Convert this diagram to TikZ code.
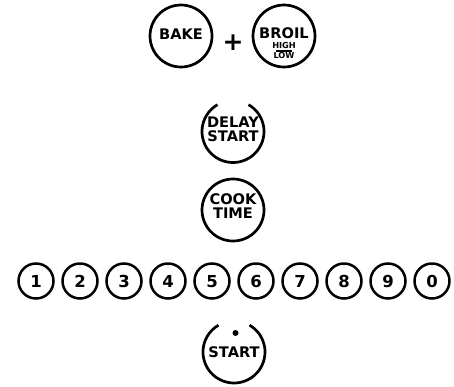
\documentclass[tikz,border=0pt]{standalone}
\usepackage{fontspec}
\setmainfont{DejaVu Sans}
\begin{document}
\begin{tikzpicture}[x=1pt,y=-1pt,
  key/.style={circle,draw,line width=2.7pt,minimum size=62pt,inner sep=0pt,align=center},
  num/.style={circle,draw,line width=2.5pt,minimum size=35pt,inner sep=0pt},
  digit/.style={inner sep=0pt,text height=12pt,text depth=0pt,font=\fontsize{16.5}{16.5}\selectfont\bfseries},
  lbl/.style={inner sep=0pt,align=center,font=\fontsize{14.6}{14}\selectfont\bfseries},
  gap/.style={line width=2.7pt}]
\useasboundingbox (0,0) rectangle (454,386);
\node[key] (bake) at (181,36) {};
\node[lbl] (baket) at (181,33.7) {BAKE};
\node[inner sep=0pt,font=\fontsize{25}{25}\selectfont\bfseries] (plus) at (233,43) {+};
\node[key] (broil) at (284,36) {};
\node[lbl] (broilt) at (284,33.2) {BROIL};
\node[inner sep=0pt,font=\fontsize{8.2}{8.2}\selectfont\bfseries] (high) at (284,46) {HIGH};
\node[inner sep=0pt,font=\fontsize{8.2}{8.2}\selectfont\bfseries] (low) at (284,56) {LOW};
\coordinate (ula) at (276,51);
\coordinate (ulb) at (292,51);
\draw[line width=1.3pt] (ula) -- (ulb);
% delay start
\node[lbl] (delay) at (233,129.2) {DELAY\\START};
\coordinate (dc) at (233,131.5);
\draw[gap] (dc) ++(-60:31) arc[start angle=-60,end angle=240,radius=31];
% cook time
\node[key] (cook) at (233,210) {};
\node[lbl] (cookt) at (233,206.5) {COOK\\TIME};
% digits
\foreach \d [count=\i from 0] in {1,2,3,4,5,6,7,8,9,0}{
  \node[num] (n\d) at ({36+44*\i},281) {};
  \node[digit] (t\d) at (n\d.center) {\d};
}
% start
\node[lbl] (start) at (234,352.5) {START};
\coordinate (sc) at (234,352);
\draw[gap] (sc) ++(-60:31) arc[start angle=-60,end angle=240,radius=31];
\fill (235.5,333) circle (3);
\end{tikzpicture}
\end{document}
